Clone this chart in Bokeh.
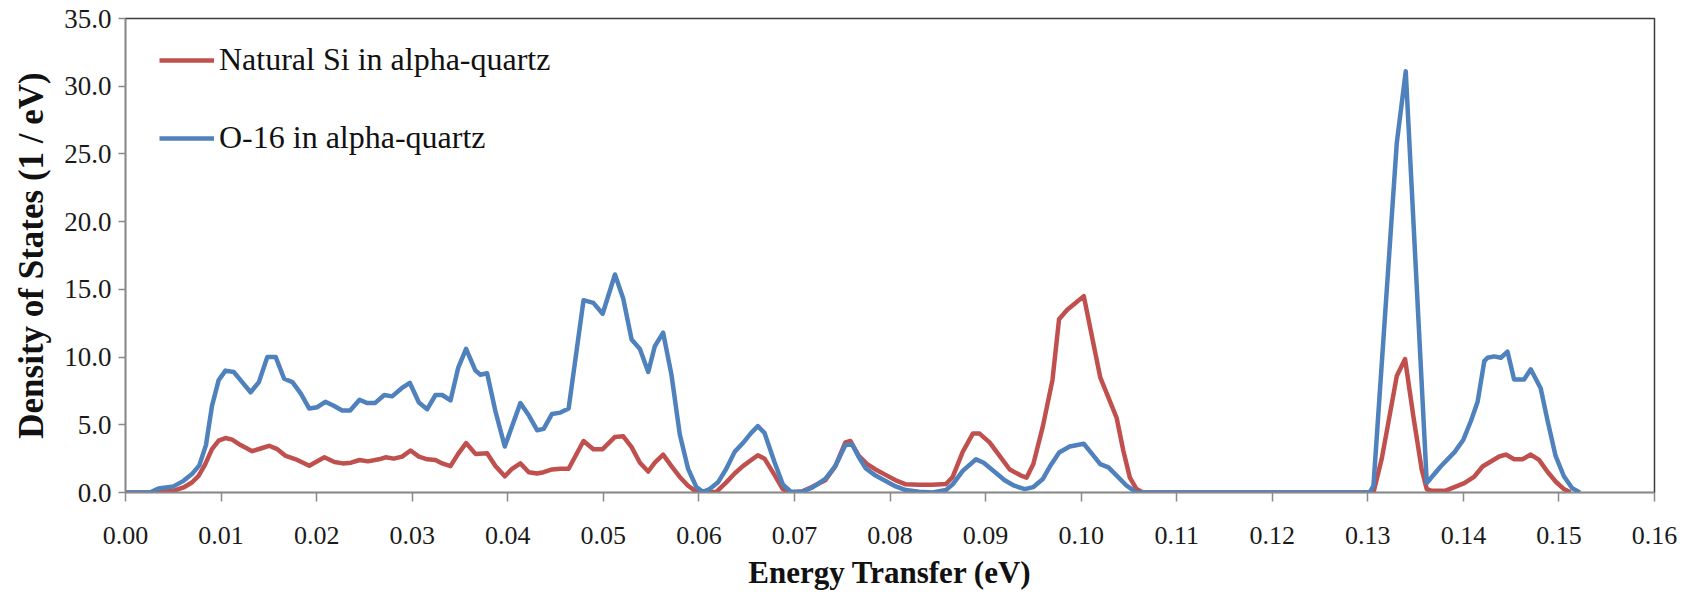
from bokeh.plotting import figure
from bokeh.models import Range1d, FixedTicker, NumeralTickFormatter, Legend, LegendItem
from bokeh.embed import file_html
from bokeh.resources import INLINE

# ---------------- data ----------------
si_energy = [0.0, 0.00274, 0.00379, 0.00502, 0.00607, 0.00695, 0.00765, 0.00835, 0.00905, 0.00975,
             0.01046, 0.01116, 0.01204, 0.01326, 0.01414, 0.01502, 0.01589, 0.01677, 0.01782, 0.01923,
             0.02081, 0.02186, 0.02274, 0.02361, 0.02449, 0.02537, 0.02652, 0.02721, 0.02808, 0.02895,
             0.02983, 0.0307, 0.03157, 0.03244, 0.03314, 0.03401, 0.03481, 0.03564, 0.03662, 0.03784,
             0.03871, 0.03969, 0.04045, 0.04132, 0.0422, 0.04307, 0.04376, 0.04463, 0.04551, 0.04637,
             0.04793, 0.04896, 0.04993, 0.05122, 0.05209, 0.05296, 0.05383, 0.0547, 0.05539, 0.05626,
             0.05713, 0.058, 0.05887, 0.05974, 0.06078, 0.06183, 0.06287, 0.06374, 0.06461, 0.06548,
             0.06617, 0.06687, 0.06791, 0.06878, 0.06965, 0.07077, 0.07182, 0.07323, 0.07428, 0.07533,
             0.07586, 0.07674, 0.07761, 0.07849, 0.07954, 0.0806, 0.08165, 0.08305, 0.08446, 0.08586,
             0.08656, 0.08761, 0.08867, 0.08937, 0.09042, 0.09147, 0.09253, 0.0937, 0.0943, 0.095,
             0.096, 0.097, 0.09769, 0.09855, 0.09941, 0.10028, 0.10114, 0.102, 0.10286, 0.10372,
             0.10441, 0.1051, 0.1058, 0.10648, 0.13059, 0.13146, 0.13216, 0.13303, 0.1339, 0.13477,
             0.13564, 0.13617, 0.1367, 0.13808, 0.13906, 0.1401, 0.14115, 0.14201, 0.14288, 0.14375,
             0.14444, 0.14531, 0.14618, 0.14705, 0.14792, 0.14878, 0.14965, 0.15052, 0.15122]
si_dos = [0.0, 0.0, 0.05, 0.12, 0.37, 0.74, 1.23, 2.1, 3.2, 3.83,
          4.02, 3.9, 3.5, 3.05, 3.25, 3.45, 3.2, 2.7, 2.45, 1.98,
          2.6, 2.25, 2.15, 2.2, 2.4, 2.3, 2.45, 2.6, 2.5, 2.65,
          3.1, 2.65, 2.45, 2.4, 2.15, 1.95, 2.85, 3.65, 2.85, 2.9,
          1.95, 1.2, 1.75, 2.15, 1.5, 1.4, 1.5, 1.7, 1.75, 1.75,
          3.8, 3.2, 3.2, 4.1, 4.15, 3.35, 2.2, 1.55, 2.2, 2.8,
          1.95, 1.15, 0.5, 0.05, 0.0, 0.05, 0.75, 1.4, 1.95, 2.4,
          2.75, 2.5, 1.3, 0.25, 0.0, 0.07, 0.4, 0.9, 1.95, 3.7,
          3.8, 2.7, 2.1, 1.7, 1.3, 0.9, 0.6, 0.58, 0.58, 0.63,
          1.15, 3.0, 4.35, 4.35, 3.7, 2.7, 1.7, 1.25, 1.1, 2.1,
          4.9, 8.3, 12.8, 13.5, 14.0, 14.5, 11.5, 8.5, 7.0, 5.5,
          3.1, 1.1, 0.25, 0.0, 0.0, 2.5, 5.2, 8.6, 9.85, 5.6,
          1.7, 0.25, 0.12, 0.12, 0.4, 0.69, 1.18, 1.92, 2.29, 2.66,
          2.8, 2.46, 2.46, 2.8, 2.41, 1.55, 0.81, 0.25, 0.0]

o16_energy = [0.0, 0.00256, 0.00344, 0.00502, 0.00607, 0.00695, 0.00772, 0.00842, 0.00905, 0.00975,
              0.01046, 0.01133, 0.01221, 0.01309, 0.01396, 0.01484, 0.01572, 0.0166, 0.01747, 0.01835,
              0.01923, 0.02007, 0.02091, 0.02179, 0.02267, 0.02351, 0.02449, 0.0253, 0.0261, 0.02708,
              0.0279, 0.0289, 0.02975, 0.0307, 0.03157, 0.03244, 0.03314, 0.03401, 0.03481, 0.03564,
              0.03662, 0.03714, 0.03784, 0.03871, 0.03969, 0.04045, 0.04132, 0.0422, 0.04307, 0.04376,
              0.04463, 0.04551, 0.04637, 0.04793, 0.04896, 0.04993, 0.05122, 0.05209, 0.05296, 0.05383,
              0.0547, 0.05539, 0.05626, 0.05713, 0.058, 0.05887, 0.05974, 0.06043, 0.06113, 0.062,
              0.06287, 0.06374, 0.06461, 0.06548, 0.06617, 0.06687, 0.06791, 0.06878, 0.06965, 0.07077,
              0.07182, 0.07323, 0.07428, 0.07533, 0.07604, 0.07674, 0.07744, 0.07849, 0.07954, 0.0806,
              0.08165, 0.08305, 0.08446, 0.08586, 0.08656, 0.08761, 0.089, 0.0898, 0.091, 0.092,
              0.093, 0.0941, 0.095, 0.096, 0.0968, 0.0977, 0.0988, 0.10028, 0.10114, 0.102,
              0.10286, 0.10372, 0.10476, 0.1058, 0.1302, 0.13059, 0.13303, 0.13397, 0.13617, 0.1376,
              0.1391, 0.14, 0.1408, 0.14149, 0.14219, 0.14253, 0.14323, 0.14392, 0.14462, 0.14531,
              0.14635, 0.14705, 0.14809, 0.14878, 0.14965, 0.15052, 0.15139, 0.15219]
o16_dos = [0.0, 0.0, 0.3, 0.45, 0.86, 1.36, 2.0, 3.5, 6.4, 8.3,
           9.0, 8.9, 8.15, 7.4, 8.15, 10.0, 10.0, 8.4, 8.15, 7.3,
           6.2, 6.3, 6.7, 6.4, 6.05, 6.05, 6.85, 6.6, 6.6, 7.2,
           7.1, 7.7, 8.1, 6.65, 6.15, 7.2, 7.2, 6.8, 9.2, 10.6,
           9.0, 8.7, 8.8, 6.0, 3.4, 4.9, 6.6, 5.7, 4.6, 4.7,
           5.8, 5.9, 6.2, 14.2, 14.0, 13.2, 16.1, 14.3, 11.3, 10.6,
           8.9, 10.8, 11.8, 8.7, 4.3, 1.75, 0.4, 0.05, 0.25, 0.75,
           1.75, 3.0, 3.65, 4.4, 4.9, 4.4, 2.25, 0.6, 0.05, 0.05,
           0.35, 1.0, 1.95, 3.5, 3.55, 2.6, 1.8, 1.25, 0.85, 0.45,
           0.18, 0.05, 0.0, 0.18, 0.6, 1.6, 2.45, 2.2, 1.5, 0.9,
           0.5, 0.25, 0.4, 1.0, 2.0, 2.95, 3.4, 3.6, 2.85, 2.1,
           1.85, 1.25, 0.5, 0.0, 0.0, 0.5, 25.8, 31.1, 0.7, 1.9,
           3.0, 3.9, 5.3, 6.7, 9.7, 9.95, 10.05, 9.95, 10.4, 8.35,
           8.35, 9.1, 7.7, 5.4, 2.7, 1.2, 0.32, 0.0]

series_names = ["Natural Si in alpha-quartz", "O-16 in alpha-quartz"]
series_colors = ["#C0504D", "#4F81BD"]

x_ticks = [0.00, 0.01, 0.02, 0.03, 0.04, 0.05, 0.06, 0.07, 0.08,
           0.09, 0.10, 0.11, 0.12, 0.13, 0.14, 0.15, 0.16]
y_ticks = [0, 5, 10, 15, 20, 25, 30, 35]

x_title = "Energy Transfer (eV)"
y_title = "Density of States (1 / eV)"

FONT = "Liberation Serif"

# ---------------- figure ----------------
p = figure(frame_width=1529, frame_height=474, output_backend="svg", toolbar_location=None,
           x_range=Range1d(0, 0.16), y_range=Range1d(0, 35),
           min_border_left=125, min_border_right=31, min_border_top=18, min_border_bottom=10,
           background_fill_color="white", border_fill_color="white")

p.xgrid.visible = False
p.ygrid.visible = False
p.outline_line_color = "#3c3c3c"
p.outline_line_width = 1.5

r_si = p.line(si_energy, si_dos, line_color=series_colors[0], line_width=4.5, line_join="round")
r_o = p.line(o16_energy, o16_dos, line_color=series_colors[1], line_width=4.5, line_join="round")

# axes
for ax in (p.xaxis[0], p.yaxis[0]):
    ax.axis_line_color = "#8a8a8a"
    ax.axis_line_width = 1.5
    ax.major_tick_line_color = "#8a8a8a"
    ax.major_tick_line_width = 1.5
    ax.major_tick_in = 0
    ax.minor_tick_line_color = None
    ax.major_label_text_font = FONT
    ax.major_label_text_color = "#1a1a1a"
    ax.axis_label_text_font = FONT
    ax.axis_label_text_font_style = "bold"
    ax.axis_label_text_color = "#111111"

p.xaxis.ticker = FixedTicker(ticks=x_ticks)
p.xaxis.formatter = NumeralTickFormatter(format="0.00")
p.xaxis.major_tick_out = 9
p.xaxis.major_label_standoff = 25
p.xaxis.major_label_text_font_size = "26px"
p.xaxis.axis_label = x_title
p.xaxis.axis_label_text_font_size = "31px"
p.xaxis.axis_label_standoff = 8

p.yaxis.ticker = FixedTicker(ticks=y_ticks)
p.yaxis.formatter = NumeralTickFormatter(format="0.0")
p.yaxis.major_tick_out = 7
p.yaxis.major_label_standoff = 7
p.yaxis.major_label_text_font_size = "27px"
p.yaxis.axis_label = y_title
p.yaxis.axis_label_text_font_size = "35px"
p.yaxis.axis_label_standoff = 10

legend = Legend(items=[LegendItem(label=series_names[0], renderers=[r_si]),
                       LegendItem(label=series_names[1], renderers=[r_o])],
                location=(34, 336), margin=0, padding=0, spacing=41,
                glyph_width=55, glyph_height=36, label_height=36, label_standoff=5,
                label_text_font=FONT, label_text_font_size="32px", label_text_color="#111111",
                border_line_color=None, background_fill_alpha=0)
p.add_layout(legend)

open("out.html", "w").write(file_html(p, INLINE))
